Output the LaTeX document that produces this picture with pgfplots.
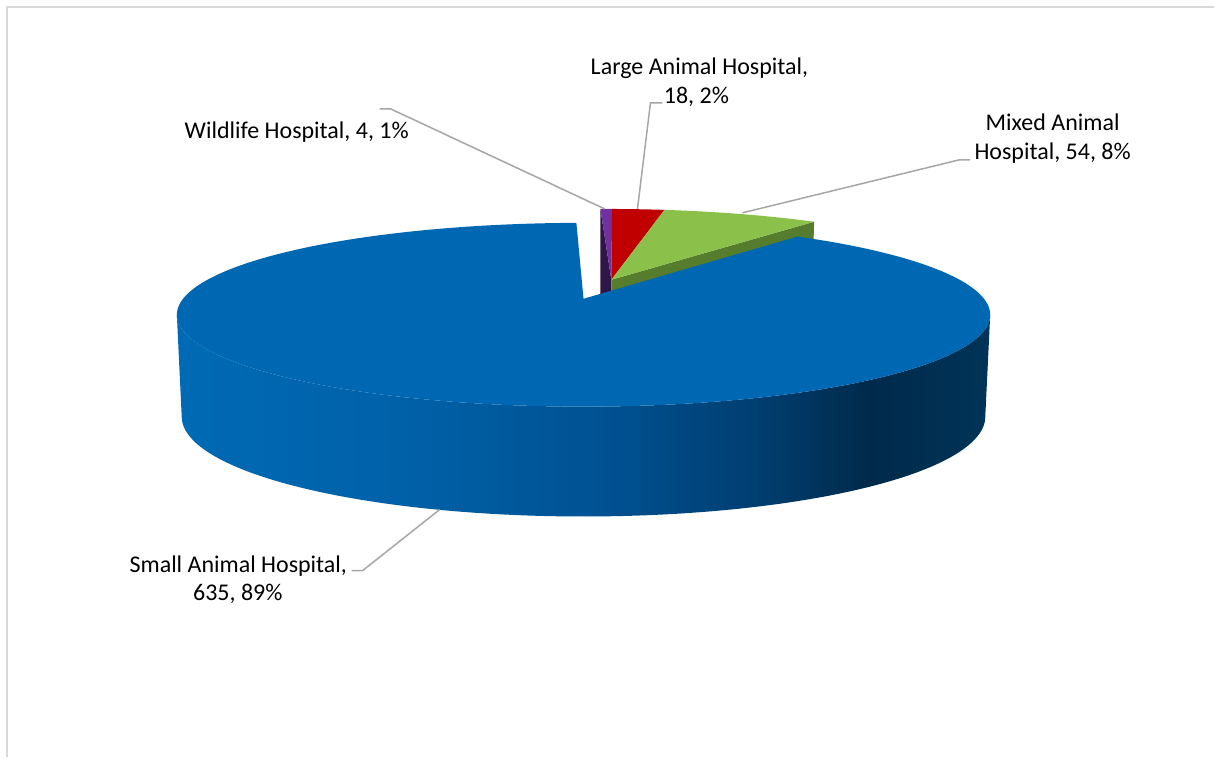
\documentclass[border=0pt]{standalone}
\usepackage{pgfplots}
\pgfplotsset{compat=1.18}
\usepackage{fontspec}
\setmainfont{Carlito}
\definecolor{bluetop}{RGB}{0,103,178}
\definecolor{cpurple}{RGB}{112,48,160}
\definecolor{cpurpled}{RGB}{46,22,70}
\definecolor{cred}{RGB}{192,0,0}
\definecolor{cgreen}{RGB}{139,193,74}
\definecolor{cgreend}{RGB}{86,124,46}
\definecolor{leader}{RGB}{166,166,166}
\definecolor{framec}{RGB}{217,217,217}
\definecolor{sA}{RGB}{0,106,181}
\definecolor{sB}{RGB}{0,97,168}
\definecolor{sC}{RGB}{0,82,147}
\definecolor{sD}{RGB}{0,62,112}
\definecolor{sE}{RGB}{0,42,74}
\definecolor{sF}{RGB}{0,52,88}
\pgfdeclarehorizontalshading{blueside}{100bp}{color(0bp)=(sA); color(25bp)=(sA); color(38.7bp)=(sB); color(51bp)=(sC); color(60.8bp)=(sD); color(67.6bp)=(sE); color(75bp)=(sF); color(100bp)=(sF)}
% perspective projection of the pie's top (P) and bottom (Q) planes
\pgfmathdeclarefunction{PX}{2}{\pgfmathparse{584+400.8*#1/(1+0.174*#2)}}
\pgfmathdeclarefunction{PY}{2}{\pgfmathparse{299-89.2*#2/(1+0.174*#2)}}
\pgfmathdeclarefunction{QX}{2}{\pgfmathparse{584+396*#1/(1+0.174*#2)}}
\pgfmathdeclarefunction{QY}{2}{\pgfmathparse{399.6-96.9*#2/(1+0.174*#2)}}
\pgfmathdeclarefunction{RR}{1}{\pgfmathparse{ifthenelse(#1<0,0,1)}}
\pgfmathdeclarefunction{AN}{3}{\pgfmathparse{#2+max(#1,0)*(#3-#2)}}
% data
\def\vW{4}\def\vL{18}\def\vM{54}\def\vS{635}
\pgfmathsetmacro\tot{\vW+\vL+\vM+\vS}
\pgfmathsetmacro\aO{91.2}
\pgfmathsetmacro\aA{\aO-(\vW/\tot)*360}
\pgfmathsetmacro\aB{\aA-(\vL/\tot)*360}
\pgfmathsetmacro\aC{\aB-(\vM/\tot)*360}
\pgfmathsetmacro\aD{\aO-360}
\pgfmathsetmacro\eu{0.233*cos((\aC+\aD)/2+180)}
\pgfmathsetmacro\ev{0.233*sin((\aC+\aD)/2+180)}
% cut faces
\pgfmathsetmacro\ctX{PX(\eu,\ev)}\pgfmathsetmacro\ctY{PY(\eu,\ev)}
\pgfmathsetmacro\cbX{QX(\eu,\ev)}\pgfmathsetmacro\cbY{QY(\eu,\ev)}
\pgfmathsetmacro\ptX{PX(\eu+cos(\aO),\ev+sin(\aO))}\pgfmathsetmacro\ptY{PY(\eu+cos(\aO),\ev+sin(\aO))}
\pgfmathsetmacro\pbX{QX(\eu+cos(\aO),\ev+sin(\aO))}\pgfmathsetmacro\pbY{QY(\eu+cos(\aO),\ev+sin(\aO))}
\pgfmathsetmacro\gtX{PX(\eu+cos(\aC),\ev+sin(\aC))}\pgfmathsetmacro\gtY{PY(\eu+cos(\aC),\ev+sin(\aC))}
\pgfmathsetmacro\gbX{QX(\eu+cos(\aC),\ev+sin(\aC))}\pgfmathsetmacro\gbY{QY(\eu+cos(\aC),\ev+sin(\aC))}
\newcommand{\slicetop}[5]{% color, from, to, offset u, offset v
  \addplot[fill=#1, draw=none, samples at={-1,0,0.02,...,1.001}, variable=\t]
   ({PX(#4+RR(\t)*cos(AN(\t,#2,#3)), #5+RR(\t)*sin(AN(\t,#2,#3)))},
    {PY(#4+RR(\t)*cos(AN(\t,#2,#3)), #5+RR(\t)*sin(AN(\t,#2,#3)))});}
\tikzset{lbl/.style={anchor=base, inner sep=0pt, text=black, font=\fontsize{12}{14.5}\selectfont}}
\begin{document}
\begin{tikzpicture}
\begin{axis}[x=0.5pt, y=0.5pt, xmin=0, xmax=1215, ymin=0, ymax=758,
  y dir=reverse, hide axis, clip=false]
\path (axis cs:0,0) rectangle (axis cs:1215,758);
\draw[framec, line width=1pt] (axis cs:7,758) -- (axis cs:7,7) -- (axis cs:1215,7);
% side faces of the small slices
\addplot[fill=cpurpled, draw=none] coordinates {(\ctX,\ctY) (\ptX,\ptY) (\pbX,\pbY) (\cbX,\cbY)};
\addplot[fill=cgreend, draw=none] coordinates {(\ctX,\ctY) (\gtX,\gtY) (\gbX,\gbY) (\cbX,\cbY)};
% tops of the small slices
\slicetop{cpurple}{\aA}{\aO}{\eu}{\ev}
\slicetop{cred}{\aB}{\aA}{\eu}{\ev}
\slicetop{cgreen}{\aC}{\aB}{\eu}{\ev}
% side of the big slice
\addplot[shade, shading=blueside, draw=none, samples at={0,0.01,...,2.001}, variable=\t]
 ({ifthenelse(\t<=1, PX(cos(-170+160*\t),sin(-170+160*\t)), QX(cos(-10-160*(\t-1)),sin(-10-160*(\t-1))))},
  {ifthenelse(\t<=1, PY(cos(-170+160*\t),sin(-170+160*\t)), QY(cos(-10-160*(\t-1)),sin(-10-160*(\t-1))))});
% top of the big slice
\addplot[fill=bluetop, draw=none, samples at={-1,0,0.004,...,1.001}, variable=\t]
 ({PX(RR(\t)*cos(AN(\t,\aD,\aC)), RR(\t)*sin(AN(\t,\aD,\aC)))},
  {PY(RR(\t)*cos(AN(\t,\aD,\aC)), RR(\t)*sin(AN(\t,\aD,\aC)))});
% leader lines
\addplot[leader, line width=0.75pt] coordinates {(380,109) (391,109) (605,209)};
\addplot[leader, line width=0.75pt] coordinates {(638,209) (651,103) (663,103)};
\addplot[leader, line width=0.75pt] coordinates {(743,213) (960,160) (971,160)};
\addplot[leader, line width=0.75pt] coordinates {(440,510) (363,571) (352,571)};
% labels
\node[lbl] at (axis cs:297,139) {Wildlife Hospital, 4, 1\%};
\node[lbl] at (axis cs:700,75) {Large Animal Hospital,};
\node[lbl] at (axis cs:697,104) {18, 2\%};
\node[lbl] at (axis cs:1053.5,131) {Mixed Animal};
\node[lbl] at (axis cs:1053.5,160) {Hospital, 54, 8\%};
\node[lbl] at (axis cs:238.5,573) {Small Animal Hospital,};
\node[lbl] at (axis cs:238,601) {635, 89\%};
\end{axis}
\end{tikzpicture}
\end{document}
